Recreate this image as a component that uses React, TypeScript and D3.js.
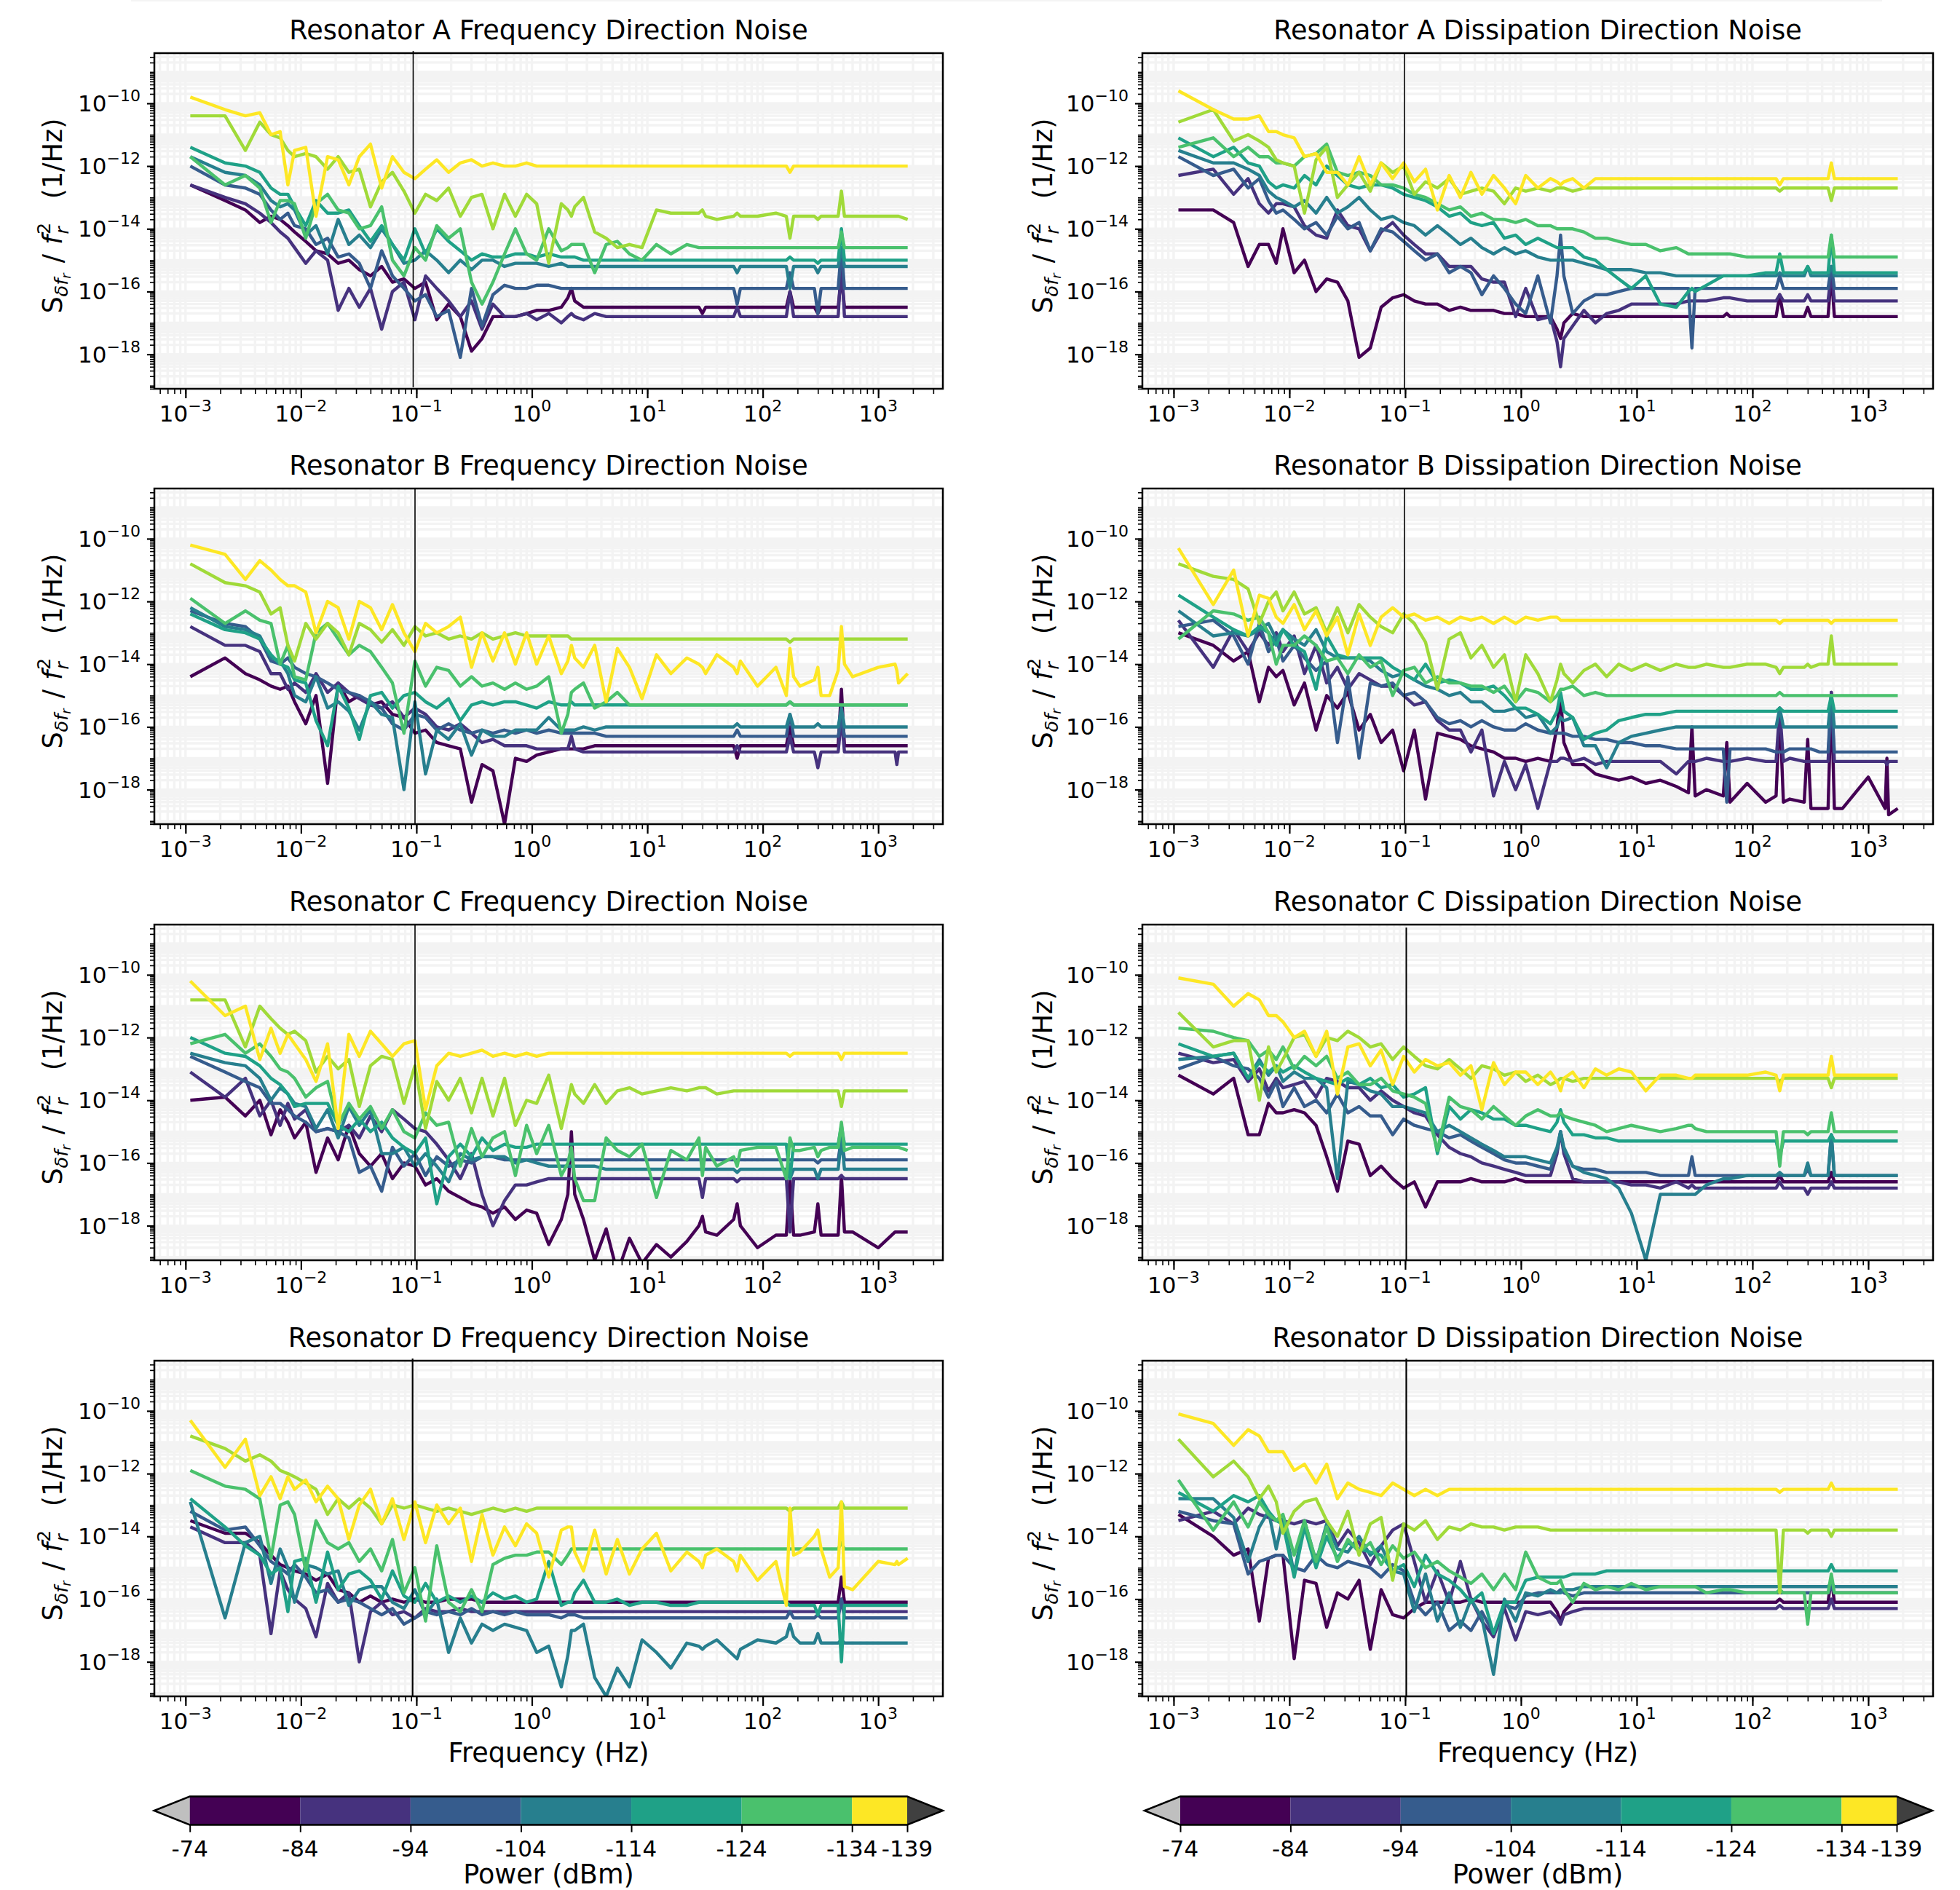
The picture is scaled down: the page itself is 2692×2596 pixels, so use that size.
import * as d3 from "d3";
import { useEffect, useRef } from "react";

// frequency bins in Hz, shared by all traces
const freqs = [
  0.0011, 0.0022, 0.0033, 0.0044, 0.0055, 0.0066, 0.0077, 0.0088, 0.011,
  0.0135, 0.017, 0.021, 0.026, 0.032, 0.04, 0.05, 0.062, 0.078, 0.097,
  0.12, 0.15, 0.19, 0.24, 0.3, 0.37, 0.46, 0.58, 0.72, 0.9,
  1.1, 1.4, 1.8, 2.05, 2.2, 2.35, 2.8, 3.5, 4.4, 5.5, 7, 9,
  12, 16, 22, 28, 30, 32, 40, 56, 60, 64, 90, 130, 160, 172, 185, 210, 280, 300, 320, 380, 450, 480, 510, 600, 1000, 1400, 1450, 1500, 1800,
];

// trace values: 123 means 10^-12.3 1/Hz
const aFreq0 = [126,131,134,138,136,137,139,141,144, 147,148,151,150,153,155,152,157,156,159, 157,169,164,168,179,175,168,168,168,167, 166,166,165,162,159,163,165,165,165,165,165,165, 165,165,165, 165,167,165, 165, 165,165,165, 165,165, 165,160,165, 165, 165,167,165, 165, 165,155,165, 165,165, 165,165,165, 165];
const aFreq1 = [126,130,132,135,138,141,143,146,151, 147,150,166,159,165,159,172,160,157,169, 155,159,163,168,163,172,164,168,168,167, 169,167,170,168,167,168,169,167,168,168,168,168, 168,168,168, 168,168,168, 168, 168,165,168, 168,168, 168,160,168, 168, 168,168,168, 168, 168,150,168, 168,168, 168,168,168, 168];
const aFreq2 = [120,126,127,129,134,137,135,139,140, 145,143,149,148,151,159,147,155,159,163, 161,168,166,181,159,171,161,158,159,159, 158,158,159,159,159,159,159,159,159,159,159,159, 159,159,159, 159,159,159, 159, 159,164,159, 159,159, 159,154,159, 159, 159,167,159, 159, 159,146,159, 159,159, 159,159,159, 159];
const aFreq3 = [117,122,123,126,131,133,132,134,142, 139,148,137,145,142,146,140,145,151,150, 147,150,154,150,153,150,150,152,151,151, 151,152,151,152,152,152,152,152,152,152,152,152, 152,152,152, 152,152,152, 152, 152,154,152, 152,152, 152,159,152, 152, 152,154,152, 152, 152,146,152, 152,152, 152,152,152, 152];
const aFreq4 = [114,119,120,122,127,129,129,133,139, 131,135,135,134,139,144,139,145,150,140, 148,140,144,147,150,148,149,149,148,148, 149,148,149,149,149,149,150,150,150,150,150,150, 150,150,150, 150,150,150, 150, 150,150,150, 150,150, 150,149,150, 150, 150,151,150, 150, 150,140,150, 150,150, 150,150,150, 150];
const aFreq5 = [117,126,123,127,138,131,131,132,143, 132,129,134,135,140,139,133,150,155,146, 150,139,143,140,157,164,157,148,140,148, 150,140,147,146,145,145,145,154,145,144,148,150, 145,148,145, 146,146,146, 146, 146,146,146, 146,146, 146,146,146, 146, 146,146,146, 146, 146,141,146, 146,146, 146,146,146, 146];
const aFreq6 = [104,104,115,106,110,111,115,117,116, 117,121,117,122,121,133,125,122,128,135, 129,131,127,136,130,129,140,129,136,129, 132,151,132,134,136,133,130,141,143,146,145,146, 134,135,135, 135,134,136, 137, 136,135,136, 136,135, 136,143,136, 136, 136,137,136, 136, 136,128,136, 136,136, 136,136,136, 137];
const aFreq7 = [98,102,104,103,110,109,126,115,114, 136,117,118,126,117,113,127,117,122,124, 121,118,122,119,118,120,119,120,120,119, 120,120,120,120,120,120,120,120,120,120,120,120, 120,120,120, 120,120,120, 120, 120,120,120, 120,120, 120,122,120, 120, 120,120,120, 120, 120,120,120, 120,120, 120,120,120, 120];

const aDiss0 = [134,134,138,152,145,145,151,140,154, 150,160,156,157,163,181,178,165,162,161, 163,164,164,166,165,166,166,166,167,167, 168,168,168,172,175,170,167,168,168,168,168,168, 168,168,168, 168,168,168, 168, 168,167,168, 168,168, 168,161,168, 168, 168,165,168, 168, 168,154,168, 168,168, 168,168,168, 168];
const aDiss1 = [123,121,129,124,132,135,132,132,133, 139,142,143,134,139,140,147,141,138,142, 145,148,148,152,152,152,156,157,157,168, 159,169,168,176,184,175,171,166,170,167,166,164, 164,164,164, 163,163,163, 163, 162,162,162, 163,163, 163,161,163, 163, 163,161,163, 163, 163,154,163, 163,163, 163,163,163, 163];
const aDiss2 = [117,123,121,127,124,131,135,134,137, 140,138,142,136,140,138,147,140,141,144, 147,150,148,154,152,154,161,155,159,164, 167,155,170,155,142,155,167,163,161,161,160,159, 159,159,159, 159,178,159, 159, 159,159,159, 159,159, 159,155,159, 159, 159,159,159, 159, 159,152,159, 159,159, 159,159,159, 159];
const aDiss3 = [115,119,119,121,123,128,130,131,133, 131,135,130,135,133,130,134,137,136,138, 139,142,139,142,145,143,146,148,146,148, 147,149,150,150,150,150,150,151,152,153,153,153, 154,154,155, 155,155,155, 155, 155,155,155, 155,155, 155,154,155, 155, 155,152,155, 155, 155,152,155, 155,155, 155,155,155, 155];
const aDiss4 = [111,117,114,119,120,125,127,126,127, 123,126,120,123,126,127,126,126,127,129, 130,131,133,136,135,138,139,138,143,142, 145,143,145,146,146,146,146,149,150,153,156,159, 155,164,165, 160,159,160, 158, 155,155,155, 155,154, 154,148,154, 154, 154,152,154, 154, 154,142,154, 154,154, 154,154,154, 154];
const aDiss5 = [114,111,117,114,117,117,119,119,120, 117,116,113,122,123,122,123,126,126,127, 129,130,132,134,133,136,135,137,137,138, 137,139,139,140,140,140,140,141,143,143,144,145, 145,147,146, 148,148,148, 148, 148,148,148, 149,149, 149,149,149, 149, 149,149,149, 149, 149,142,149, 149,149, 149,149,149, 149];
const aDiss6 = [106,102,112,110,112,114,118,119,120, 135,118,114,130,126,122,128,119,122,120, 129,125,127,124,129,128,127,128,132,127, 128,127,128,127,127,127,128,127,127,127,127,127, 127,127,127, 127,127,127, 127, 127,127,127, 127,127, 127,128,127, 127, 127,127,127, 127, 127,131,127, 127,127, 127,127,127, 127];
const aDiss7 = [96,102,105,105,104,109,109,110,111, 117,116,122,122,126,117,126,119,124,119, 125,121,134,123,130,122,129,123,127,132, 123,127,124,125,126,125,124,127,124,124,124,124, 124,124,124, 124,124,124, 124, 124,124,124, 124,124, 124,126,124, 124, 124,124,124, 124, 124,119,124, 124,124, 124,124,124, 124];

const bFreq0 = [144,138,143,145,147,148,147,152,159, 150,178,146,152,150,153,152,156,157,162, 161,165,166,167,184,172,174,191,170,171, 169,168,167,167,167,167,167,166,166,166,166,166, 166,166,166, 166,166,166, 166, 166,170,166, 166,166, 166,160,166, 166, 166,166,166, 166, 166,148,166, 166,166, 166,166,166, 166];
const bFreq1 = [128,134,134,136,143,143,148,146,149, 143,149,146,149,151,153,154,152,157,154, 156,160,161,159,162,165,164,166,166,166, 167,167,167,167,163,167,168,168,168,168,168,168, 168,168,168, 168,168,168, 168, 168,166,168, 168,168, 168,163,168, 168, 168,173,168, 168, 168,157,168, 168,168, 168,172,168, 168];
const bFreq2 = [123,127,128,132,139,140,138,141,143, 144,146,148,149,150,152,154,159,161,156, 157,161,159,161,162,161,162,161,162,161, 162,161,162,162,162,162,162,162,163,163,163,163, 163,163,163, 163,163,163, 163, 163,161,163, 163,163, 163,156,163, 163, 163,163,163, 163, 163,157,163, 163,163, 163,163,163, 163];
const bFreq3 = [122,128,129,131,138,139,143,150,152, 144,154,152,155,161,152,156,157,180,152, 175,161,164,159,169,161,163,163,161,161, 161,157,161,161,161,161,160,161,160,160,160,160, 160,160,160, 160,160,160, 160, 160,159,160, 160,160, 160,156,160, 160, 160,159,160, 160, 160,154,160, 160,160, 160,160,160, 160];
const bFreq4 = [124,129,130,132,137,140,141,145,146, 158,166,147,154,164,150,149,154,150,149, 152,154,151,158,153,152,153,152,152,153, 154,152,153,153,152,153,153,153,153,153,153,153, 153,153,153, 153,153,153, 153, 153,153,153, 153,153, 153,152,153, 153, 153,153,153, 153, 153,153,153, 153,153, 153,153,153, 153];
const bFreq5 = [119,127,123,126,127,140,134,144,145, 130,127,132,137,134,136,141,146,162,139, 147,141,142,147,144,147,146,148,146,148, 147,144,162,156,149,148,146,154,152,149,153,153, 153,153,153, 153,153,153, 153, 153,153,153, 153,153, 153,152,153, 153, 153,153,153, 153, 153,153,153, 153,153, 153,153,153, 153];
const bFreq6 = [108,114,115,117,124,122,134,139,127, 132,127,130,137,127,129,133,129,134,128, 131,130,132,131,132,130,132,131,130,131, 131,131,131,131,132,132,132,132,132,132,132,132, 132,132,132, 132,132,132, 132, 132,132,132, 132,132, 132,133,132, 132, 132,132,132, 132, 132,132,132, 132,132, 132,132,132, 132];
const bFreq7 = [102,105,113,107,110,113,115,115,117, 130,120,122,132,120,122,129,121,130,136, 127,130,128,125,141,130,139,130,140,130, 140,131,143,139,134,138,141,134,152,135,141,151, 137,143,138, 140,141,143, 137, 141,143,139, 147,141, 150,135,144, 147, 145,141,150, 150, 142,128,140, 144,141, 140,142,146, 143];

const bDiss0 = [130,134,139,136,152,141,144,142,153, 146,161,150,154,149,161,156,165,161,174, 161,183,162,163,164,166,167,168,170,170, 171,170,171,160,150,165,172,172,175,176,177,176, 178,177,179, 181,160,182, 180, 182,165,184, 178,184, 182,154,184, 183, 184,164,186, 186, 186,149,186, 186,176, 186,170,188, 186];
const bDiss1 = [126,141,129,136,130,134,130,136,131, 143,134,146,141,148,143,145,147,147,150, 153,152,158,161,161,168,161,182,171,180, 172,186,171,171,170,170,171,170,172,171,171,171, 171,171,175, 171,171,171, 170, 171,171,171, 170,171, 171,154,171, 170, 171,171,171, 171, 171,149,171, 171,171, 171,172,171, 171];
const bDiss2 = [128,126,131,140,127,136,132,139,134, 138,142,139,165,144,170,146,147,146,150, 149,152,157,159,158,160,158,160,161,161, 159,161,162,162,162,162,163,163,164,164,165,165, 166,166,167, 167,167,167, 167, 167,184,167, 167,167, 168,168,168, 167, 167,167,167, 168, 168,150,168, 168,168, 168,168,168, 168];
const bDiss3 = [123,131,130,131,129,127,132,129,132, 134,129,136,138,138,138,139,142,144,143, 145,147,148,150,149,152,152,155,155,154, 157,156,162,160,157,158,157,166,166,173,165,163, 162,161,160, 160,160,160, 160, 160,160,160, 160,160, 160,154,160, 160, 160,160,160, 160, 160,150,160, 160,160, 160,160,160, 160];
const bDiss4 = [118,125,129,131,128,130,134,129,134, 136,148,131,137,138,138,138,138,141,143, 145,140,146,145,146,148,148,147,150,154, 154,156,159,155,149,155,157,164,162,161,158,157, 156,156,155, 155,155,155, 155, 155,155,155, 155,155, 155,154,155, 155, 155,155,155, 155, 155,150,155, 155,155, 155,155,155, 155];
const bDiss5 = [132,123,124,126,125,130,140,134,134, 131,134,139,138,143,137,141,139,150,142, 141,146,144,146,146,147,147,149,147,152, 148,149,152,150,148,148,147,150,149,150,150,150, 150,150,150, 150,150,150, 150, 150,150,150, 150,150, 150,149,150, 150, 150,150,150, 150, 150,150,150, 150,150, 150,150,150, 150];
const bDiss6 = [108,112,113,116,127,120,117,123,117, 124,122,130,122,130,121,125,128,130,124, 127,133,148,132,130,138,134,141,137,152, 137,143,152,145,140,143,146,142,140,144,140,142, 140,142,140, 141,141,141, 140, 141,141,141, 140,140, 141,143,141, 141, 141,140,141, 140, 140,131,140, 140,140, 140,140,140, 140];
const bDiss7 = [103,121,110,131,118,119,125,127,121, 129,123,131,125,137,124,134,125,122,125, 124,126,125,127,125,126,125,127,125,127, 125,126,125,125,126,126,126,126,126,126,126,126, 126,126,126, 126,126,126, 126, 126,126,126, 126,126, 126,127,126, 126, 126,126,126, 126, 126,127,126, 126,126, 126,126,126, 126];

const cFreq0 = [140,139,145,140,151,143,147,152,147, 163,152,159,148,157,161,157,165,160,161, 167,165,169,171,173,174,176,174,178,175, 176,186,178,170,150,170,178,191,181,195,184,192, 186,190,185, 180,177,182, 183, 178,173,180, 187,183, 183,165,183, 183, 182,173,183, 183, 183,164,182, 182,187, 182,182,182, 182];
const cFreq1 = [131,139,133,145,140,148,141,146,143, 150,149,150,148,152,145,150,143,146,149, 150,154,159,165,157,170,180,172,167,167, 166,165,165,165,165,165,165,165,165,165,165,165, 165,165,165, 165,171,165, 165, 165,166,165, 165,165, 165,182,165, 165, 165,165,165, 165, 165,164,165, 165,165, 165,165,165, 165];
const cFreq2 = [126,131,134,136,141,141,143,145,147, 150,149,150,152,163,161,169,155,161,157, 164,158,161,159,160,158,158,159,159,159, 159,159,159,159,159,159,159,159,159,159,159,159, 159,159,159, 159,159,159, 159, 159,159,159, 159,159, 159,159,159, 159, 159,160,159, 159, 159,152,159, 159,159, 159,159,159, 159];
const cFreq3 = [125,128,129,133,140,136,138,141,142, 149,143,152,142,148,143,157,157,155,161, 157,161,166,157,159,158,158,158,160,159, 160,161,161,161,161,161,161,161,162,162,162,162, 162,162,162, 162,162,162, 162, 162,163,162, 162,162, 162,165,162, 162, 162,165,162, 162, 162,152,162, 162,162, 162,162,162, 162];
const cFreq4 = [120,125,126,129,133,135,138,142,141, 141,141,148,150,146,150,147,152,155,157, 152,173,158,154,158,152,156,154,155,155, 154,154,154,154,154,154,154,154,154,154,154,154, 154,154,154, 154,154,154, 154, 154,154,154, 154,154, 154,165,154, 154, 154,154,154, 154, 154,148,154, 154,154, 154,154,154, 154];
const cFreq5 = [122,119,125,122,126,130,131,133,139, 136,134,148,141,146,142,149,143,150,152, 144,148,147,161,149,158,152,150,164,148, 157,148,164,160,155,165,172,172,152,156,158,154, 171,156,159, 152,164,155, 161, 158,161,156, 155,155, 165,152,156, 156, 155,158,156, 155, 155,147,156, 155,155, 155,155,155, 156];
const cFreq6 = [108,108,123,110,114,117,119,118,121, 131,126,130,127,142,129,126,127,141,129, 149,134,140,133,144,133,145,133,148,140, 141,132,149,140,135,138,141,135,141,137,136,138, 137,136,137, 136,136,136, 138, 137,137,137, 137,137, 137,137,137, 137, 137,137,137, 137, 137,142,137, 137,137, 137,137,137, 137];
const cFreq7 = [102,113,110,127,117,125,119,122,127, 134,122,149,119,126,118,122,126,122,121, 143,129,125,126,125,124,126,125,126,125, 126,125,125,125,125,125,125,125,125,125,125,125, 125,125,125, 125,125,125, 125, 125,125,125, 125,125, 125,126,125, 125, 125,125,125, 125, 125,127,125, 125,125, 125,125,125, 125];

const cDiss0 = [132,138,133,151,151,141,144,144,143, 144,148,158,169,153,154,164,161,165,168, 166,174,166,166,166,165,166,166,166,165, 166,166,166,166,166,166,166,166,166,166,166,166, 166,166,166, 166,166,166, 166, 166,166,166, 166,166, 166,164,166, 166, 166,166,166, 166, 166,163,166, 166,166, 166,166,166, 166];
const cDiss1 = [125,128,127,134,130,137,133,136,135, 134,139,133,134,136,136,140,137,140,142, 144,145,151,155,157,158,160,161,162,163, 164,164,164,157,150,157,165,166,166,166,166,167, 167,168,166, 168,167,168, 168, 168,168,168, 168,168, 168,166,168, 168, 168,170,168, 168, 168,166,168, 168,168, 168,168,168, 168];
const cDiss2 = [130,126,129,130,133,139,134,142,136, 142,140,144,138,144,142,145,145,151,146, 148,149,150,152,151,153,155,157,159,160, 160,161,162,156,150,156,161,162,162,163,163,163, 163,164,164, 164,158,164, 164, 164,164,164, 164,164, 164,164,164, 164, 164,162,164, 164, 164,151,164, 164,164, 164,164,164, 164];
const cDiss3 = [127,126,125,133,127,132,129,134,131, 133,133,136,165,134,135,137,138,142,142, 143,144,150,148,150,152,154,156,158,158, 158,159,160,155,150,155,161,163,164,165,168,176, 191,170,170, 170,170,170, 167, 165,165,165, 164,164, 164,163,164, 164, 164,160,164, 164, 164,151,164, 164,164, 164,164,164, 164];
const cDiss4 = [122,126,125,133,128,131,129,131,129, 131,133,134,135,133,135,133,136,135,139, 138,136,157,142,146,143,144,146,146,148, 148,149,150,147,143,147,151,151,152,152,153,153, 153,153,153, 153,153,153, 153, 153,153,153, 153,153, 153,158,153, 153, 153,153,153, 153, 153,151,153, 153,153, 153,153,153, 153];
const cDiss5 = [117,118,120,121,126,124,127,123,130, 126,129,126,133,131,135,135,133,137,138, 139,141,156,139,142,143,146,142,145,148, 145,143,145,145,144,145,146,147,148,150,149,148, 149,150,149, 148,148,149, 150, 150,150,150, 150,150, 150,161,150, 150, 150,151,150, 150, 150,144,150, 150,150, 150,150,150, 150];
const cDiss6 = [112,123,121,121,140,123,131,127,120, 119,126,120,121,118,120,123,122,127,123, 126,129,130,127,130,133,129,130,132,131, 134,132,135,134,133,133,134,133,133,133,133,133, 133,133,133, 133,133,133, 133, 133,133,133, 133,133, 133,134,133, 133, 133,133,133, 133, 133,136,133, 133,133, 133,133,133, 133];
const cDiss7 = [101,103,110,106,108,113,113,115,120, 118,126,118,138,123,122,129,124,135,126, 131,127,129,128,132,129,143,128,135,131, 131,135,131,134,137,133,131,136,130,132,130,131, 137,132,132, 133,133,132, 132, 132,132,132, 132,131, 132,137,132, 132, 132,132,132, 132, 132,126,132, 132,132, 132,132,132, 132];

const dFreq0 = [135,139,139,142,146,149,150,151,152, 154,152,157,158,161,159,161,160,161,160, 161,161,160,160,160,161,161,161,161,161, 161,161,161,161,161,161,161,161,161,161,161,161, 161,161,161, 161,161,161, 161, 161,161,161, 161,161, 161,161,161, 161, 161,161,161, 161, 161,153,161, 161,161, 161,161,161, 161];
const dFreq1 = [137,142,142,146,171,151,157,160,163, 172,155,161,158,180,164,161,165,164,166, 163,164,164,163,164,164,164,164,164,164, 164,164,164,164,164,164,164,164,164,164,164,164, 164,164,164, 164,164,164, 164, 164,164,164, 164,164, 164,164,164, 164, 164,164,164, 164, 164,160,164, 164,164, 164,164,164, 164];
const dFreq2 = [132,138,137,143,148,150,152,149,153, 158,157,161,160,161,163,165,163,168,166, 164,165,164,165,163,165,164,165,164,165, 165,165,166,165,165,165,166,166,166,166,166,166, 166,166,166, 166,166,166, 166, 166,166,166, 166,166, 166,164,166, 166, 166,165,166, 166, 166,160,166, 166,166, 166,166,166, 166];
const dFreq3 = [129,166,142,140,155,144,150,161,149, 150,152,151,162,157,156,156,161,163,157, 165,160,177,166,174,168,170,168,169,170, 177,175,188,178,170,170,168,185,191,182,188,173, 177,182,174, 175,176,175, 173, 178,179,176, 173,174, 172,168,172, 174, 174,171,174, 174, 174,173,174, 174,174, 174,174,174, 174];
const dFreq4 = [128,137,143,146,152,150,164,148,147, 161,145,157,152,151,154,160,151,159,161, 155,161,159,161,159,161,158,160,159,161, 160,148,162,161,161,158,154,161,161,160,162,161, 161,162,162, 161,161,161, 161, 161,161,161, 161,161, 161,162,162, 162, 162,165,162, 162, 162,180,162, 162,162, 162,162,162, 162];
const dFreq5 = [119,124,125,128,147,130,129,133,151, 135,142,144,142,148,144,151,141,158,150, 167,143,161,164,157,164,149,147,146,146, 145,145,149,146,144,144,144,144,144,144,144,144, 144,144,144, 144,144,144, 144, 144,144,144, 144,144, 144,144,144, 144, 144,144,144, 144, 144,142,144, 144,144, 144,144,144, 144];
const dFreq6 = [108,112,116,114,116,119,120,121,123, 125,133,128,131,128,131,136,130,131,130, 131,132,131,132,133,132,131,132,131,132, 131,131,131,131,131,131,131,131,131,131,131,131, 131,131,131, 131,131,131, 131, 131,131,131, 131,131, 131,132,131, 131, 131,131,131, 131, 131,129,131, 131,131, 131,131,131, 131];
const dFreq7 = [103,118,109,127,121,128,121,125,122, 129,124,128,141,130,125,136,128,141,129, 142,130,136,131,148,133,146,137,143,136, 139,153,138,137,137,145,151,138,152,141,152,144, 139,151,145, 148,150,146, 144, 148,151,146, 154,148, 162,131,146, 145, 140,138,144, 153, 150,129,156, 157,148, 149,148,149, 147];

const dDiss0 = [133,140,146,144,167,147,146,146,179, 154,155,169,158,160,154,176,157,165,166, 163,161,161,161,161,160,161,161,161,161, 161,161,161,164,167,164,161,161,161,161,161,161, 161,161,161, 161,161,161, 161, 161,161,161, 161,161, 161,160,161, 161, 161,161,161, 161, 161,153,161, 161,161, 161,161,161, 161];
const dDiss1 = [135,132,136,131,133,134,135,135,136, 135,136,135,143,138,142,149,143,138,136, 148,161,151,161,148,160,167,172,163,173, 164,165,164,166,168,165,164,163,163,163,163,163, 163,163,163, 163,163,163, 163, 163,163,163, 163,163, 163,162,163, 163, 163,163,163, 163, 163,160,163, 163,163, 163,163,163, 163];
const dDiss2 = [132,135,136,152,148,147,146,146,150, 151,146,149,150,148,149,150,153,149,151, 161,165,161,170,167,170,164,171,162,163, 159,158,158,158,157,158,159,158,158,158,158,158, 158,158,158, 158,158,158, 158, 158,158,158, 158,158, 158,158,158, 158, 158,158,158, 158, 158,156,158, 158,158, 158,158,158, 158];
const dDiss3 = [128,128,134,148,137,132,144,134,152, 135,148,136,144,145,140,146,143,151,152, 164,152,167,158,169,160,166,184,160,167, 158,159,157,158,158,157,157,156,156,156,156,156, 156,156,156, 156,156,156, 156, 156,156,156, 156,156, 156,156,156, 156, 156,156,156, 156, 156,155,156, 156,156, 156,156,156, 156];
const dDiss4 = [126,132,127,129,127,132,135,136,153, 137,150,140,147,142,144,145,146,151,149, 156,146,152,154,157,161,158,171,161,161, 154,153,153,153,153,153,152,152,152,151,151,151, 151,151,151, 151,151,151, 151, 151,151,151, 151,151, 151,151,151, 151, 151,151,151, 151, 151,149,151, 151,151, 151,151,151, 151];
const dDiss5 = [122,138,129,137,129,133,135,133,146, 135,148,137,148,141,145,142,149,143,147, 145,150,148,151,153,155,152,157,152,157, 145,153,155,155,154,157,161,155,157,156,157,155, 157,156,156, 156,156,156, 158, 157,157,157, 158,158, 158,157,158, 158, 158,168,158, 158, 158,152,158, 158,158, 158,158,158, 158];
const dDiss6 = [109,121,116,121,128,124,129,139,132, 129,128,135,140,132,146,136,134,154,136, 138,135,141,137,138,136,137,137,138,137, 137,137,138,138,138,138,138,138,138,138,138,138, 138,138,138, 138,138,138, 138, 138,138,138, 138,138, 138,158,138, 138, 138,139,138, 138, 138,140,138, 138,138, 138,138,138, 138];
const dDiss7 = [101,104,111,106,108,113,113,113,119, 117,123,117,128,123,125,126,127,123,125, 127,125,127,125,125,125,125,125,125,125, 125,125,125,125,125,125,125,125,125,125,125,125, 125,125,125, 125,125,125, 125, 125,125,125, 125,125, 125,126,125, 125, 125,125,125, 125, 125,123,125, 125,125, 125,125,125, 125];

const traceColors = ["#440154", "#46327e", "#365c8d", "#277f8e", "#1fa187", "#4ac16d", "#a0da39", "#fde725"];
const barColors = ["#440154", "#46327e", "#365c8d", "#277f8e", "#1fa187", "#4ac16d", "#fde725"];
const powerLevels = [-74, -84, -94, -104, -114, -124, -134, -139];
const xMajor = [-3, -2, -1, 0, 1, 2, 3];
const yMajor = [-10, -12, -14, -16, -18];

const FONT = "'DejaVu Sans'";
const leftCols = [212, 1569];
const rowTops = [73, 671, 1270, 1869];
const plotW = [1083, 1086];
const plotH = 461;

const panels = [
  { title: "Resonator A Frequency Direction Noise", col: 0, row: 0, traces: [aFreq0, aFreq1, aFreq2, aFreq3, aFreq4, aFreq5, aFreq6, aFreq7], mark: [567.5, 70, 532, 1.6] },
  { title: "Resonator A Dissipation Direction Noise", col: 1, row: 0, traces: [aDiss0, aDiss1, aDiss2, aDiss3, aDiss4, aDiss5, aDiss6, aDiss7], mark: [1929, 74, 534, 1.6] },
  { title: "Resonator B Frequency Direction Noise", col: 0, row: 1, traces: [bFreq0, bFreq1, bFreq2, bFreq3, bFreq4, bFreq5, bFreq6, bFreq7], mark: [570, 671, 1132, 1.6] },
  { title: "Resonator B Dissipation Direction Noise", col: 1, row: 1, traces: [bDiss0, bDiss1, bDiss2, bDiss3, bDiss4, bDiss5, bDiss6, bDiss7], mark: [1929, 671, 1132, 1.6] },
  { title: "Resonator C Frequency Direction Noise", col: 0, row: 2, traces: [cFreq0, cFreq1, cFreq2, cFreq3, cFreq4, cFreq5, cFreq6, cFreq7], mark: [570, 1270, 1732, 1.6] },
  { title: "Resonator C Dissipation Direction Noise", col: 1, row: 2, traces: [cDiss0, cDiss1, cDiss2, cDiss3, cDiss4, cDiss5, cDiss6, cDiss7], mark: [1931.5, 1274, 1732, 2] },
  { title: "Resonator D Frequency Direction Noise", col: 0, row: 3, traces: [dFreq0, dFreq1, dFreq2, dFreq3, dFreq4, dFreq5, dFreq6, dFreq7], mark: [566.7, 1866, 2330, 2.2] },
  { title: "Resonator D Dissipation Direction Noise", col: 1, row: 3, traces: [dDiss0, dDiss1, dDiss2, dDiss3, dDiss4, dDiss5, dDiss6, dDiss7], mark: [1931.5, 1866, 2330, 2.2] },
];

const decadeSubs = (lo: number, hi: number) => {
  const out: number[] = [];
  for (let e = lo; e <= hi; e++) {
    for (let m = 1; m <= 9; m++) out.push(m * 10 ** e);
  }
  return out;
};

const powerLabel = (sel: any, exp: number) => {
  sel.append("tspan").text("10");
  sel.append("tspan").attr("font-size", 22).attr("dy", -14).text(exp < 0 ? "\u2212" + -exp : exp);
};

const drawPanel = (root: any, p: any) => {
  const left = leftCols[p.col];
  const top = rowTops[p.row];
  const w = plotW[p.col];
  const g = root.append("g").attr("transform", `translate(${left},${top})`);

  const x = d3.scaleLog().domain([10 ** -3.27, 10 ** 3.56]).range([0, w]);
  const y = d3.scaleLog().domain([10 ** -19.1, 10 ** -8.4]).range([plotH, 0]);
  const xTicks = decadeSubs(-4, 3).filter((d) => d >= x.domain()[0] && d <= x.domain()[1]);
  const yTicks = decadeSubs(-20, -9).filter((d) => d >= y.domain()[0] && d <= y.domain()[1]);

  // grid
  const grid = g.append("g").attr("stroke", "#f3f3f3").attr("stroke-width", 3.4);
  grid.selectAll("line.v").data(xTicks).join("line").attr("class", "v")
    .attr("x1", (d: number) => x(d)).attr("x2", (d: number) => x(d)).attr("y1", 0).attr("y2", plotH);
  grid.selectAll("line.h").data(yTicks).join("line").attr("class", "h")
    .attr("y1", (d: number) => y(d)).attr("y2", (d: number) => y(d)).attr("x1", 0).attr("x2", w);

  // traces, purple first and yellow on top
  const clipId = `clip-${p.col}-${p.row}`;
  g.append("clipPath").attr("id", clipId).append("rect").attr("width", w).attr("height", plotH);
  const line = d3.line<number>()
    .x((_, i) => x(freqs[i]))
    .y((v) => y(10 ** (-v / 10)));
  g.append("g").attr("clip-path", `url(#${clipId})`)
    .selectAll("path").data(p.traces).join("path")
    .attr("d", (d: any) => line(d))
    .attr("fill", "none")
    .attr("stroke", (_: any, i: number) => traceColors[i])
    .attr("stroke-width", 4.4)
    .attr("stroke-linejoin", "round");

  // axes
  const xAxisG = g.append("g").attr("transform", `translate(0,${plotH})`);
  xAxisG.call(d3.axisBottom(x).tickValues(xTicks).tickSize(7).tickFormat(() => ""));
  xAxisG.call((s: any) => s.selectAll(".tick line").attr("stroke-width", 1.6));
  const xMajorG = g.append("g").attr("transform", `translate(0,${plotH})`);
  xMajorG.call(d3.axisBottom(x).tickValues(xMajor.map((e) => 10 ** e)).tickSize(13).tickFormat(() => ""));
  xMajorG.selectAll(".tick line").attr("stroke-width", 2.2);
  xMajor.forEach((e) => {
    const t = g.append("text").attr("x", x(10 ** e)).attr("y", plotH + 45)
      .attr("text-anchor", "middle").attr("font-family", FONT).attr("font-size", 31);
    powerLabel(t, e);
  });

  const yAxisG = g.append("g");
  yAxisG.call(d3.axisLeft(y).tickValues(yTicks).tickSize(6).tickFormat(() => ""));
  yAxisG.selectAll(".tick line").attr("stroke-width", 1.6);
  const yMajorG = g.append("g");
  yMajorG.call(d3.axisLeft(y).tickValues(yMajor.map((e) => 10 ** e)).tickSize(10).tickFormat(() => ""));
  yMajorG.selectAll(".tick line").attr("stroke-width", 2.2);
  [xAxisG, xMajorG, yAxisG, yMajorG].forEach((a) => a.select(".domain").remove());
  yMajor.forEach((e) => {
    const t = g.append("text").attr("x", -19).attr("y", y(10 ** e) + 11)
      .attr("text-anchor", "end").attr("font-family", FONT).attr("font-size", 31);
    powerLabel(t, e);
  });

  g.append("rect").attr("width", w).attr("height", plotH)
    .attr("fill", "none").attr("stroke", "#000").attr("stroke-width", 2.5);

  g.append("text").attr("x", w / 2).attr("y", -19).attr("text-anchor", "middle")
    .attr("font-family", FONT).attr("font-size", 36.6).text(p.title);

  // y label
  const ylab = g.append("text")
    .attr("transform", `translate(${(p.col === 0 ? 85 : 1445) - left},${plotH / 2 - 7}) rotate(-90)`)
    .attr("text-anchor", "middle").attr("font-family", FONT).attr("font-size", 36.6);
  ylab.append("tspan").text("S");
  ylab.append("tspan").attr("font-size", 25.6).attr("font-style", "italic").attr("dy", 8).text("\u03b4f");
  ylab.append("tspan").attr("font-size", 18).attr("font-style", "italic").attr("dy", 4).text("r");
  ylab.append("tspan").attr("dy", -12).attr("dx", 14).text("/");
  ylab.append("tspan").attr("dx", 13).attr("font-style", "italic").text("f");
  ylab.append("tspan").attr("font-size", 25.6).attr("dy", -16).attr("dx", 1).text("2");
  ylab.append("tspan").attr("font-size", 25.6).attr("font-style", "italic").attr("dy", 25).attr("dx", -16).text("r");
  ylab.append("tspan").attr("dy", -9).attr("dx", 38).text("(1/Hz)");

  // hand drawn marker at 0.1 Hz
  const [mx, my1, my2, mw] = p.mark;
  root.append("line").attr("x1", mx).attr("x2", mx).attr("y1", my1).attr("y2", my2)
    .attr("stroke", "#000").attr("stroke-width", mw);
};

const drawColorbar = (root: any, col: number) => {
  const x0 = col === 0 ? 260.7 : 1621;
  const x1 = col === 0 ? 1246 : 2605;
  const top = 2467.5;
  const bottom = 2506.5;
  const tip = 49;
  const mid = (top + bottom) / 2;
  const scale = d3.scaleLinear().domain([powerLevels[0], powerLevels[powerLevels.length - 1]]).range([x0, x1]);
  const g = root.append("g");

  g.append("polygon").attr("points", `${x0},${top} ${x0 - tip},${mid} ${x0},${bottom}`).attr("fill", "#bfbfbf");
  g.append("polygon").attr("points", `${x1},${top} ${x1 + tip},${mid} ${x1},${bottom}`).attr("fill", "#404040");
  barColors.forEach((c, i) => {
    g.append("rect").attr("x", scale(powerLevels[i])).attr("y", top)
      .attr("width", scale(powerLevels[i + 1]) - scale(powerLevels[i])).attr("height", bottom - top).attr("fill", c);
  });
  g.append("polygon")
    .attr("points", `${x0},${top} ${x1},${top} ${x1 + tip},${mid} ${x1},${bottom} ${x0},${bottom} ${x0 - tip},${mid}`)
    .attr("fill", "none").attr("stroke", "#000").attr("stroke-width", 2.5);

  const axis = g.append("g").attr("transform", `translate(0,${bottom})`);
  axis.call(d3.axisBottom(scale).tickValues(powerLevels).tickSize(10).tickFormat(() => ""));
  axis.select(".domain").remove();
  axis.selectAll(".tick line").attr("stroke-width", 2);
  powerLevels.forEach((d) => {
    g.append("text").attr("x", scale(d)).attr("y", 2550).attr("text-anchor", "middle")
      .attr("font-family", FONT).attr("font-size", 31).text(d);
  });
  g.append("text").attr("x", leftCols[col] + plotW[col] / 2).attr("y", 2587).attr("text-anchor", "middle")
    .attr("font-family", FONT).attr("font-size", 36.6).text("Power (dBm)");
  g.append("text").attr("x", leftCols[col] + plotW[col] / 2).attr("y", 2420).attr("text-anchor", "middle")
    .attr("font-family", FONT).attr("font-size", 36.6).text("Frequency (Hz)");
};

const App = () => {
  const svgRef = useRef<SVGSVGElement | null>(null);

  useEffect(() => {
    const svg = d3.select(svgRef.current);
    svg.selectAll("*").remove();
    svg.append("rect").attr("width", 2692).attr("height", 2596).attr("fill", "#fff");
    svg.append("rect").attr("x", 180).attr("width", 2405).attr("height", 2).attr("fill", "#f4f4f4");
    panels.forEach((p) => drawPanel(svg, p));
    drawColorbar(svg, 0);
    drawColorbar(svg, 1);
  }, []);

  return <svg ref={svgRef} width={2692} height={2596} style={{ position: "absolute", left: 0, top: 0 }} />;
};

export default App;
